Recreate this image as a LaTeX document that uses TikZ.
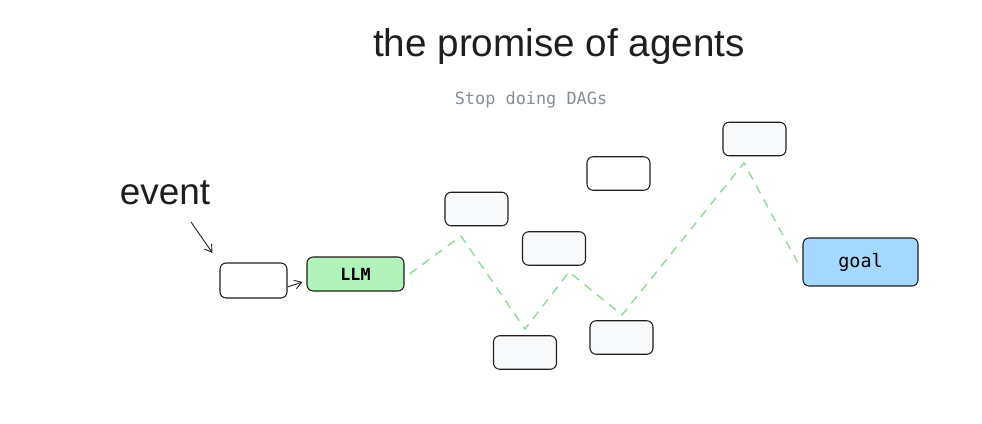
\documentclass[tikz,border=0pt]{standalone}
\usepackage{fontspec}
\setmainfont{Liberation Sans}
\newfontfamily\monofont{DejaVu Sans Mono}
\usepackage{tikz}
\usetikzlibrary{arrows.meta,positioning}
\definecolor{InkDark}{HTML}{1E1E1E}
\definecolor{CardFill}{HTML}{F8F9FA}
\definecolor{LlmGreen}{HTML}{B2F2BB}
\definecolor{GoalBlue}{HTML}{A5D8FF}
\definecolor{PathGreen}{HTML}{8CDB97}
\definecolor{SubGray}{HTML}{868E96}

\tikzset{
  card/.style={draw=InkDark, line width=0.6pt, rounded corners=3.5pt, fill=CardFill,
    minimum width=12.6mm, minimum height=6.7mm, inner sep=0pt},
  pathline/.style={PathGreen, line width=0.8pt, dash pattern=on 5pt off 4pt},
  pointer/.style={InkDark, line width=0.5pt, -{Straight Barb[length=4pt,width=5pt]}}
}

\begin{document}
\begin{tikzpicture}[x=0.2mm, y=-0.2mm]
  % Frame
  \useasboundingbox[fill=white] (0,0) rectangle (982,424);

  % Headings
  \node[font=\fontsize{22}{25}\selectfont, text=InkDark] (title) at (559,47) {the promise of agents};
  \node[font=\monofont\fontsize{9.6}{11}\selectfont, text=SubGray] (subtitle) at (531,100) {Stop doing DAGs};
  \node[font=\fontsize{21}{24}\selectfont, text=InkDark] (eventlbl) at (165,193) {event};

  % Start and model
  \node[card, fill=white, minimum width=13.4mm, minimum height=7mm] (trigger) at (253.5,280.5) {};
  \node[card, fill=LlmGreen, minimum width=19.4mm, minimum height=6.8mm,
        font=\monofont\bfseries\fontsize{9.5}{11}\selectfont] (llm) at (355.5,274) {LLM};

  % Scattered steps
  \node[card] (stepA) at (476.5,209) {};
  \node[card, fill=white] (stepB) at (618.5,173.5) {};
  \node[card] (stepC) at (554,248.5) {};
  \node[card] (stepD) at (525,352.5) {};
  \node[card] (stepE) at (621.5,337.5) {};
  \node[card] (stepF) at (754.5,139) {};

  % Goal
  \node[card, fill=GoalBlue, minimum width=23mm, minimum height=9.6mm,
        font=\monofont\fontsize{10.5}{12}\selectfont] (goal) at (860.5,262) {goal};

  % Wandering route
  \coordinate (turn1) at (461,236);
  \coordinate (turn2) at (525,329);
  \coordinate (turn3) at (569,272);
  \coordinate (turn4) at (622,315);
  \coordinate (turn5) at (744,163);
  \draw[pathline] ([xshift=1mm]llm.east) -- (turn1) -- (turn2) -- (turn3) -- (turn4) -- (turn5) -- ([xshift=-1mm]goal.west);

  % Arrows
  \coordinate (eventtail) at (191,222);
  \draw[pointer] (eventtail) -- ([xshift=-1.4mm,yshift=1.9mm]trigger.north west);
  \draw[pointer] ([yshift=-1.3mm]trigger.east) -- ([xshift=-0.8mm,yshift=-1.6mm]llm.west);
\end{tikzpicture}
\end{document}
